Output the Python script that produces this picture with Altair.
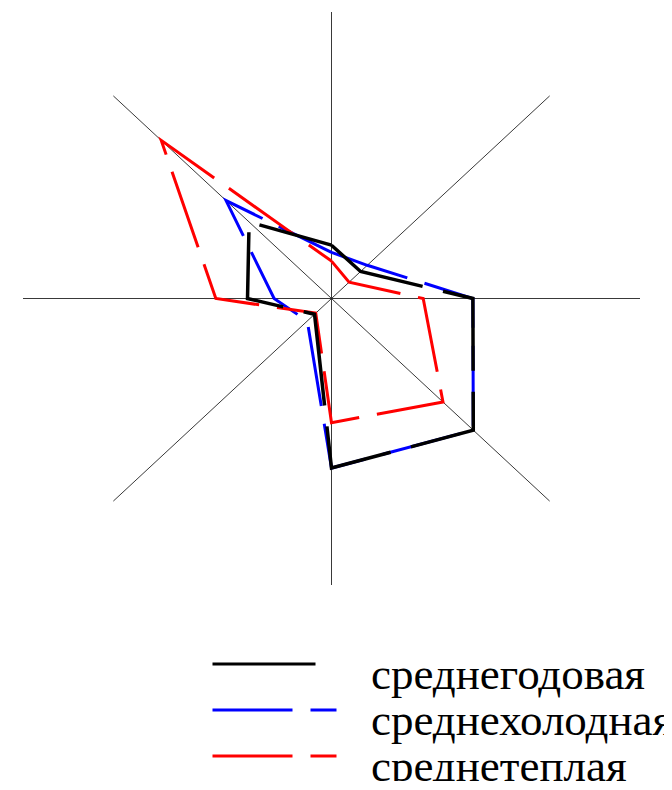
import altair as alt
import pandas as pd

# Wind directions, clockwise from north
directions = ["С", "СВ", "В", "ЮВ", "Ю", "ЮЗ", "З", "СЗ"]
series_names = ["среднегодовая", "среднехолодная", "среднетеплая"]

# Frequencies, %
annual = [6.7, 4.8, 16.5, 23.4, 21.3, 2.8, 9.8, 13.6]
cold = [5.8, 5.9, 16.5, 23.4, 21.3, 4.0, 6.7, 17.4]
warm = [4.7, 2.9, 10.7, 18.4, 15.6, 2.6, 13.5, 28.1]

axis_max = 36

rows = []
for name, vals in zip(series_names, [annual, cold, warm]):
    for i in range(len(directions) + 1):  # repeat first point to close the rose
        k = i % len(directions)
        rows.append({"series": name, "idx": i, "dir": directions[k], "value": vals[k]})
df = pd.DataFrame(rows)

rays = pd.DataFrame({"idx": list(range(len(directions))), "dir": directions,
                     "r": [axis_max] * len(directions)})

xs = alt.Scale(domain=[-axis_max, axis_max], nice=False, zero=False)
ys = alt.Scale(domain=[-axis_max, axis_max], nice=False, zero=False)

color_scale = alt.Scale(domain=series_names, range=["#000000", "#0000ff", "#ff0000"])
dash_scale = alt.Scale(domain=series_names, range=[[103, 21], [80, 18], [80, 18]])

# wide, flat legend symbol (custom path scaled by sqrt(size)/2), raised above the label
legend = alt.Legend(
    orient="none", legendX=229, legendY=640, title=None,
    symbolType="M-5,-0.85H5", symbolSize=615, symbolStrokeWidth=3,
    labelFont="Liberation Serif", labelFontSize=45, labelColor="#000000",
    labelOffset=74, labelBaseline="middle", labelLimit=0, rowPadding=0, padding=0,
)

ray_layer = alt.Chart(rays).transform_calculate(
    ang="datum.idx * PI / 4",
    x0="0 * datum.r",
    y0="0 * datum.r",
    x1="datum.r * sin(datum.ang)",
    y1="datum.r * cos(datum.ang)",
).mark_rule(color="#222222", strokeWidth=0.9).encode(
    x=alt.X("x0:Q", scale=xs, axis=None),
    y=alt.Y("y0:Q", scale=ys, axis=None),
    x2="x1:Q",
    y2="y1:Q",
)

def series_layer(name, width):
    return alt.Chart(df).transform_filter(
        alt.datum.series == name
    ).transform_calculate(
        ang="datum.idx * PI / 4",
        px="datum.value * sin(datum.ang)",
        py="datum.value * cos(datum.ang)",
    ).mark_line(strokeWidth=width, strokeJoin="miter", strokeCap="butt").encode(
        x=alt.X("px:Q", scale=xs, axis=None),
        y=alt.Y("py:Q", scale=ys, axis=None),
        order="idx:Q",
        color=alt.Color("series:N", scale=color_scale, legend=legend),
        strokeDash=alt.StrokeDash("series:N", scale=dash_scale, legend=legend),
    )

chart = alt.layer(
    ray_layer,
    series_layer("среднехолодная", 3),
    series_layer("среднетеплая", 3),
    series_layer("среднегодовая", 3.5),
).properties(
    width=617, height=573,
    padding={"left": 15, "top": 4, "right": 24, "bottom": 196},
    autosize=alt.AutoSizeParams(type="none"),
    background="white",
).configure_view(stroke=None)

chart.save("out.html", embed_options={"renderer": "svg", "actions": False})
